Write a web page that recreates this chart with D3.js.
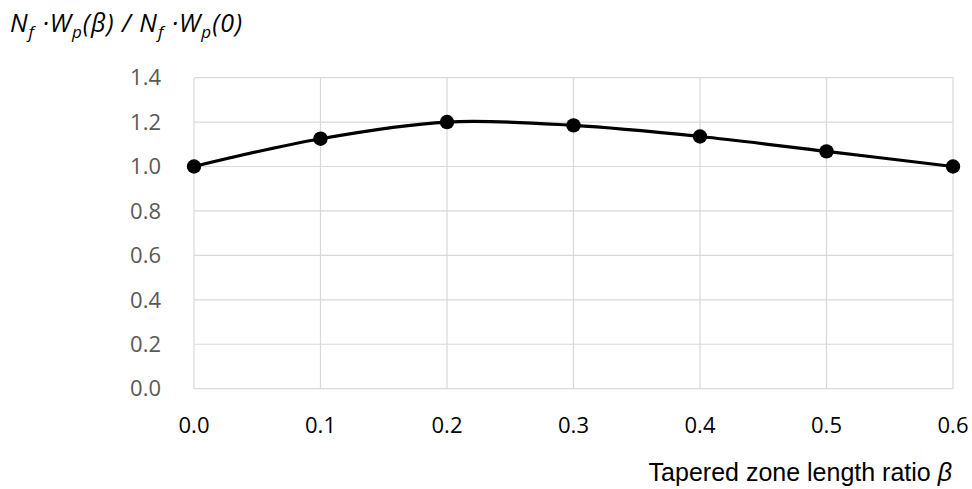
<!DOCTYPE html>
<html>
<head>
<meta charset="utf-8">
<script src="https://cdn.jsdelivr.net/npm/d3@7"></script>
<style>
  html, body { margin: 0; padding: 0; background: #fff; }
  svg { display: block; }
</style>
</head>
<body>
<div id="chart"></div>
<script>
// Tapered zone length ratio vs normalised fatigue-life/work product
const betaValues = [0.0, 0.1, 0.2, 0.3, 0.4, 0.5, 0.6];
const ratioValues = [1.0, 1.125, 1.2, 1.185, 1.135, 1.068, 1.0];
const xTicks = [0.0, 0.1, 0.2, 0.3, 0.4, 0.5, 0.6];
const yTicks = [0.0, 0.2, 0.4, 0.6, 0.8, 1.0, 1.2, 1.4];

const width = 972, height = 489;

const svg = d3.select("#chart").append("svg")
  .attr("width", width).attr("height", height);

const x = d3.scaleLinear().domain([0, 0.6]).range([194, 953]);
const y = d3.scaleLinear().domain([0, 1.4]).range([388.7, 77.6]);

const tickFont = "'Open Sans', 'Noto Sans', sans-serif";

// Gridlines
const grid = svg.append("g");
grid.selectAll("line.h").data(yTicks).join("line")
  .attr("x1", x(0)).attr("x2", x(0.6))
  .attr("y1", d => y(d)).attr("y2", d => y(d))
  .attr("stroke", "#d9d9d9").attr("stroke-width", 1.2);
grid.selectAll("line.v").data(xTicks).join("line")
  .attr("x1", d => x(d)).attr("x2", d => x(d))
  .attr("y1", y(0)).attr("y2", y(1.4))
  .attr("stroke", "#d9d9d9").attr("stroke-width", 1.2);

// Y tick labels
svg.append("g").selectAll("text").data(yTicks).join("text")
  .attr("x", 161).attr("y", d => y(d))
  .attr("dy", "0.35em")
  .attr("text-anchor", "end")
  .attr("font-family", tickFont).attr("font-size", 22)
  .attr("fill", "#595959")
  .text(d => d3.format(".1f")(d));

// X tick labels
svg.append("g").selectAll("text").data(xTicks).join("text")
  .attr("x", d => x(d)).attr("y", 425.5)
  .attr("dy", "0.35em")
  .attr("text-anchor", "middle")
  .attr("font-family", tickFont).attr("font-size", 22)
  .attr("fill", "#000")
  .text(d => d3.format(".1f")(d));

// Data line (smoothed)
const pts = betaValues.map((b, i) => [b, ratioValues[i]]);
const line = d3.line()
  .x(d => x(d[0])).y(d => y(d[1]))
  .curve(d3.curveCatmullRom.alpha(0.5));
svg.append("path").datum(pts)
  .attr("d", line)
  .attr("fill", "none").attr("stroke", "#000").attr("stroke-width", 3.2);

// Markers
svg.append("g").selectAll("circle").data(pts).join("circle")
  .attr("cx", d => x(d[0])).attr("cy", d => y(d[1]))
  .attr("r", 7.2).attr("fill", "#000");

// Y axis title
const yt = svg.append("text")
  .attr("x", 10).attr("y", 32)
  .attr("font-family", tickFont).attr("font-size", 25)
  .attr("letter-spacing", 1)
  .attr("font-style", "italic").attr("fill", "#000");
const parts = [
  ["N", 0], ["f", 1], [" ·W", 0], ["p", 1], ["(β) / N", 0], ["f", 1], [" ·W", 0], ["p", 1], ["(0)", 0]
];
let prevSub = 0;
parts.forEach(([t, sub]) => {
  const ts = yt.append("tspan").text(t);
  if (sub) { ts.attr("font-size", 17).attr("dy", 6); }
  else if (prevSub) { ts.attr("dy", -6); }
  prevSub = sub;
});

// X axis title
const xt = svg.append("text")
  .attr("x", 952).attr("y", 481)
  .attr("text-anchor", "end")
  .attr("font-family", "'Liberation Sans', Arial, sans-serif")
  .attr("font-size", 25).attr("fill", "#000");
xt.append("tspan").text("Tapered zone length ratio ");
xt.append("tspan").attr("font-style", "italic").text("β");
</script>
</body>
</html>
